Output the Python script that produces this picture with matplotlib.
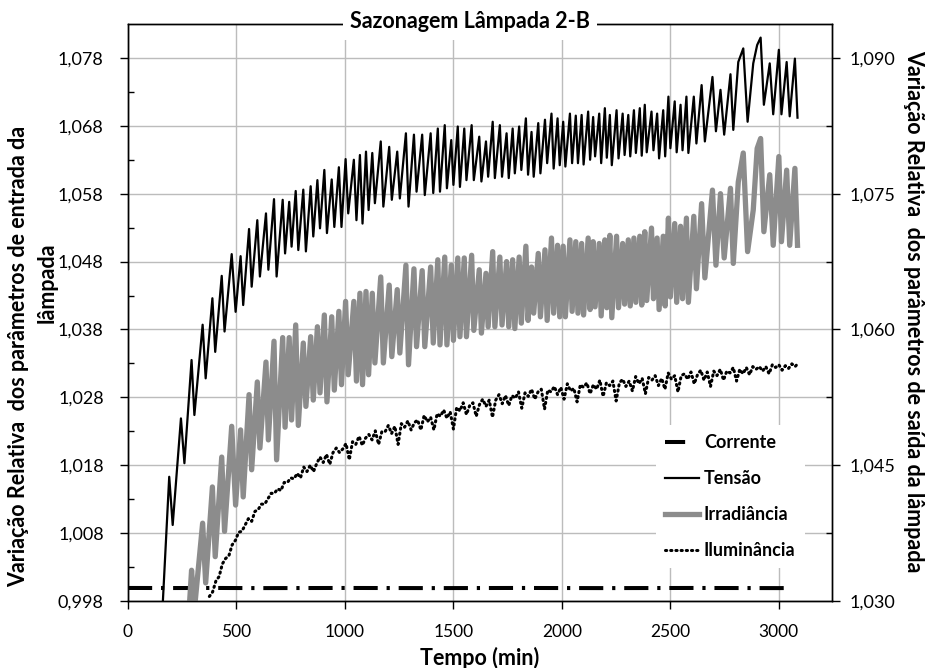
import matplotlib.pyplot as plt
import numpy as np
from matplotlib.lines import Line2D

plt.rcParams['font.family'] = ['Lato', 'DejaVu Sans']

# Tensão (eixo esquerdo): picos e vales
tensao_t = [160, 190, 206, 244, 260, 293, 306, 344, 358, 389, 402, 432, 445, 478, 496,
            519, 531, 558, 570, 596, 608, 636, 647, 673, 685, 713, 724, 743, 754, 773, 785,
            808, 820, 842, 854, 873, 885, 905, 917, 939, 951, 972, 984, 1003, 1015,
            1041, 1053, 1069, 1081, 1097, 1109, 1126, 1138, 1165, 1177, 1204, 1216,
            1241, 1253, 1281, 1293, 1318, 1330, 1356, 1368, 1395, 1407,
            1428, 1438, 1460, 1470, 1490, 1500, 1520, 1530, 1550, 1560, 1584, 1594,
            1619, 1629, 1650, 1660, 1681, 1691, 1714, 1724, 1745, 1755, 1773, 1783,
            1803, 1813, 1834, 1844, 1860, 1870, 1891, 1901, 1922, 1932, 1952, 1962,
            1980, 1990, 2006, 2016, 2037, 2047, 2064, 2074,
            2091, 2100, 2121, 2130, 2144, 2153, 2172, 2181, 2198, 2207, 2221, 2230,
            2252, 2261, 2280, 2289, 2306, 2315, 2332, 2341, 2359, 2368, 2382, 2391,
            2413, 2422, 2439, 2448, 2467, 2476, 2491, 2500, 2520, 2529, 2547, 2556,
            2574, 2583, 2608, 2620, 2644, 2659,
            2694, 2710, 2731, 2748, 2777, 2790, 2813, 2836, 2856, 2882, 2900, 2916, 2931,
            2958, 2974, 3000, 3012, 3036, 3050, 3074, 3086]
tensao_v = [0.9975, 1.0163, 1.0092, 1.0249, 1.0183, 1.0335, 1.0254, 1.0387, 1.0308, 1.0426,
            1.0347, 1.0459, 1.0377, 1.0491, 1.0406, 1.0488, 1.0416, 1.0528, 1.0443, 1.0541,
            1.0458, 1.0551, 1.0468, 1.0572, 1.0458, 1.0571, 1.0492, 1.0568, 1.0502, 1.0584, 1.0497,
            1.0586, 1.0495, 1.0591, 1.0517, 1.0600, 1.0529, 1.0615, 1.0522, 1.0601, 1.0531,
            1.0619, 1.0531, 1.0631, 1.0551, 1.0630, 1.0541, 1.0637, 1.0536, 1.0642, 1.0556,
            1.0640, 1.0566, 1.0657, 1.0561, 1.0649, 1.0571, 1.0642, 1.0573, 1.0669, 1.0561,
            1.0667, 1.0583, 1.0667, 1.0578, 1.0669, 1.0581,
            1.0676, 1.0583, 1.0681, 1.0588, 1.0659, 1.0593, 1.0679, 1.0590, 1.0676, 1.0600,
            1.0681, 1.0600, 1.0664, 1.0598, 1.0657, 1.0605, 1.0686, 1.0603, 1.0681, 1.0605,
            1.0669, 1.0603, 1.0676, 1.0610, 1.0679, 1.0615, 1.0691, 1.0608, 1.0671, 1.0605,
            1.0684, 1.0610, 1.0689, 1.0625, 1.0698, 1.0617, 1.0691, 1.0622, 1.0686, 1.0620,
            1.0698, 1.0625, 1.0695, 1.0625,
            1.0696, 1.0623, 1.0701, 1.0630, 1.0693, 1.0635, 1.0698, 1.0625, 1.0706, 1.0633,
            1.0696, 1.0622, 1.0703, 1.0632, 1.0698, 1.0637, 1.0696, 1.0635, 1.0703, 1.0640,
            1.0706, 1.0636, 1.0711, 1.0641, 1.0701, 1.0644, 1.0698, 1.0632, 1.0703, 1.0635,
            1.0723, 1.0647, 1.0716, 1.0641, 1.0711, 1.0644, 1.0723, 1.0640, 1.0723, 1.0654,
            1.0740, 1.0657,
            1.0752, 1.0672, 1.0733, 1.0667, 1.0756, 1.0674, 1.0774, 1.0794, 1.0686, 1.0772,
            1.0799, 1.0810, 1.0711, 1.0772, 1.0697, 1.0792, 1.0697, 1.0774, 1.0694, 1.0779, 1.0692]

# Irradiância (eixo direito), mesmos instantes a partir de 283 min
irrad_t = [283] + tensao_t[5:]
irrad_v = [1.0295, 1.0334, 1.0290, 1.0386, 1.0320, 1.0426, 1.0349, 1.0459, 1.0377, 1.0493,
           1.0406, 1.0489, 1.0415, 1.0528, 1.0445, 1.0542, 1.0469, 1.0564, 1.0478, 1.0587,
           1.0456, 1.0591, 1.0492, 1.0591, 1.0500, 1.0605, 1.0494,
           1.0585, 1.0515, 1.0592, 1.0522, 1.0603, 1.0530, 1.0616, 1.0520, 1.0614, 1.0533,
           1.0620, 1.0539, 1.0631, 1.0550, 1.0631, 1.0543, 1.0640, 1.0539, 1.0642, 1.0550,
           1.0640, 1.0563, 1.0658, 1.0563, 1.0649, 1.0570, 1.0644, 1.0574, 1.0671, 1.0561,
           1.0667, 1.0581, 1.0665, 1.0581, 1.0669, 1.0585,
           1.0677, 1.0583, 1.0680, 1.0583, 1.0671, 1.0588, 1.0679, 1.0592, 1.0679, 1.0592,
           1.0682, 1.0599, 1.0666, 1.0596, 1.0662, 1.0603, 1.0686, 1.0603, 1.0680, 1.0605,
           1.0675, 1.0603, 1.0677, 1.0601, 1.0680, 1.0607, 1.0692, 1.0610, 1.0669, 1.0618,
           1.0684, 1.0614, 1.0688, 1.0610, 1.0701, 1.0618, 1.0693, 1.0614, 1.0692, 1.0614,
           1.0699, 1.0620, 1.0697, 1.0618,
           1.0695, 1.0616, 1.0701, 1.0622, 1.0697, 1.0625, 1.0695, 1.0615, 1.0699, 1.0624,
           1.0704, 1.0613, 1.0703, 1.0624, 1.0695, 1.0628, 1.0699, 1.0626, 1.0701, 1.0630,
           1.0703, 1.0627, 1.0708, 1.0632, 1.0712, 1.0634, 1.0701, 1.0622, 1.0703, 1.0626,
           1.0723, 1.0636, 1.0717, 1.0630, 1.0714, 1.0634, 1.0723, 1.0630, 1.0725, 1.0645,
           1.0739, 1.0657,
           1.0754, 1.0671, 1.0750, 1.0679, 1.0756, 1.0673, 1.0763, 1.0795, 1.0686, 1.0732,
           1.0800, 1.0811, 1.0708, 1.0771, 1.0693, 1.0791, 1.0697, 1.0776, 1.0693, 1.0778, 1.0693]

# Corrente (eixo esquerdo)
corrente_t = [0, 200, 400, 600, 800, 1000, 1200, 1400, 1600, 1800, 2000, 2200, 2400,
              2600, 2800, 3000, 3046]
corrente_v = [0.99992, 0.99991, 0.99992, 0.99990, 0.99991, 0.99992, 0.99991, 0.99990,
              0.99991, 0.99992, 0.99991, 0.99990, 0.99991, 0.99992, 0.99991, 0.99990, 0.99991]

# Iluminância (eixo direito), amostras a cada 15 min a partir de 375 min
ilum_t0, ilum_dt = 375, 15
ilum_v = [1.0305, 1.0310, 1.0322, 1.0327, 1.0341, 1.0347, 1.0350, 1.0362, 1.0367, 1.0376,
          1.0377, 1.0384, 1.0391, 1.0388, 1.0399, 1.0401, 1.0407, 1.0407, 1.0413, 1.0419,
          1.0419, 1.0424, 1.0422, 1.0431, 1.0431, 1.0436, 1.0435, 1.0441, 1.0436, 1.0448,
          1.0443, 1.0450, 1.0443, 1.0452, 1.0459, 1.0453, 1.0462, 1.0451, 1.0464, 1.0469,
          1.0464, 1.0468, 1.0474, 1.0456, 1.0476, 1.0473, 1.0482, 1.0472, 1.0480, 1.0484,
          1.0478, 1.0488, 1.0473, 1.0487, 1.0487, 1.0494, 1.0485, 1.0493, 1.0473, 1.0496,
          1.0492, 1.0499, 1.0489, 1.0497, 1.0500, 1.0489, 1.0505, 1.0498, 1.0503, 1.0489,
          1.0507, 1.0504, 1.0511, 1.0502, 1.0509, 1.0490, 1.0514, 1.0510, 1.0519, 1.0506,
          1.0516, 1.0519, 1.0504, 1.0517, 1.0523, 1.0515, 1.0522, 1.0503, 1.0522, 1.0528,
          1.0518, 1.0527, 1.0516, 1.0527, 1.0524, 1.0531, 1.0513, 1.0530, 1.0526, 1.0534,
          1.0523, 1.0531, 1.0534, 1.0512, 1.0533, 1.0531, 1.0537, 1.0528, 1.0536, 1.0523,
          1.0540, 1.0532, 1.0535, 1.0520, 1.0539, 1.0536, 1.0541, 1.0529, 1.0539, 1.0534,
          1.0544, 1.0526, 1.0541, 1.0538, 1.0543, 1.0521, 1.0541, 1.0545, 1.0537, 1.0543,
          1.0532, 1.0548, 1.0540, 1.0546, 1.0529, 1.0547, 1.0544, 1.0549, 1.0538, 1.0546,
          1.0534, 1.0552, 1.0545, 1.0549, 1.0531, 1.0549, 1.0551, 1.0545, 1.0553, 1.0540,
          1.0550, 1.0555, 1.0544, 1.0553, 1.0537, 1.0554, 1.0549, 1.0556, 1.0544, 1.0554,
          1.0552, 1.0558, 1.0543, 1.0556, 1.0551, 1.0558, 1.0550, 1.0559, 1.0556, 1.0559,
          1.0554, 1.0559, 1.0551, 1.0561, 1.0558, 1.0561, 1.0555, 1.0560, 1.0557, 1.0562,
          1.0559, 1.0563]
ilum_t = ilum_t0 + ilum_dt * np.arange(len(ilum_v))

left_ticks = [0.998, 1.008, 1.018, 1.028, 1.038, 1.048, 1.058, 1.068, 1.078]
right_ticks = [1.030, 1.045, 1.060, 1.075, 1.090]
x_ticks = [0, 500, 1000, 1500, 2000, 2500, 3000]


def virgula(vals):
    return [f'{v:.3f}'.replace('.', ',') for v in vals]


fig = plt.figure(figsize=(9.27, 6.68), dpi=100)
ax = fig.add_axes([128 / 927, 67 / 668, 704 / 927, 577 / 668])
ax2 = ax.twinx()

cinza = '#8c8c8c'
pontilhado = (0, (0.4, 1.3))
ax.plot(corrente_t, corrente_v, color='black', lw=2.9, linestyle=(0, (6, 2.2, 0.8, 2.2)),
        zorder=3)
ax.plot(tensao_t, tensao_v, color='black', lw=1.6, zorder=4)
ax2.plot(irrad_t, irrad_v, color=cinza, lw=3.8, solid_joinstyle='round', zorder=2)
ax2.plot(ilum_t, ilum_v, color='black', lw=2.2, linestyle=pontilhado,
         dash_capstyle='round', zorder=3)

ax.set_xlim(0, 3245)
ax.set_ylim(0.998, 1.083)
ax2.set_ylim(1.030, 1.09375)

ax.set_xticks(x_ticks)
ax.set_xticklabels([str(x) for x in x_ticks])
ax.set_yticks(left_ticks)
ax.set_yticklabels(virgula(left_ticks))
ax.set_yticks([v + 0.005 for v in left_ticks[:-1]], minor=True)
ax2.set_yticks(right_ticks)
ax2.set_yticklabels(virgula(right_ticks))
ax2.set_yticks([v + 0.0075 for v in right_ticks[:-1]], minor=True)

ax.grid(True, which='major', color='#bcbcbc', lw=1.0)
ax.set_axisbelow(True)

for a in (ax, ax2):
    a.tick_params(which='major', direction='out', length=5.5, width=1, labelsize=13,
                  colors='black')
    a.tick_params(which='minor', direction='in', length=4, width=1)
    for s in a.spines.values():
        s.set_linewidth(1.0)
ax.tick_params(axis='y', pad=12)
ax.tick_params(axis='x', pad=11, labelsize=12.5)
ax2.tick_params(axis='y', pad=7)

ax.set_xlabel('Tempo (min)', fontsize=15.5, fontweight='bold', labelpad=5)

fig.text(19 / 927, 1 - 356 / 668, 'Variação Relativa  dos parâmetros de entrada da',
         rotation=90, ha='center', va='center', fontsize=15.5, fontweight='bold')
fig.text(47 / 927, 1 - 283 / 668, 'lâmpada', rotation=90, ha='center', va='center',
         fontsize=15.5, fontweight='bold')
fig.text(914 / 927, 1 - 311 / 668, 'Variação Relativa  dos parâmetros de saída da lâmpada',
         rotation=270, ha='center', va='center', fontsize=15.5, fontweight='bold')

fig.text(470 / 927, 1 - 22 / 668, 'Sazonagem Lâmpada 2-B', ha='center', va='center',
         fontsize=15.5, fontweight='bold',
         bbox=dict(boxstyle='square,pad=0.35', facecolor='white', edgecolor='none'))

handles = [Line2D([], [], color='black', lw=2.9, linestyle=(0, (5, 10))),
           Line2D([], [], color='black', lw=1.6),
           Line2D([], [], color=cinza, lw=3.8),
           Line2D([], [], color='black', lw=2.2, linestyle=pontilhado,
                  dash_capstyle='round')]
labels = ['Corrente', 'Tensão', 'Irradiância', 'Iluminância']
leg = ax2.legend(handles, labels, loc='upper left',
                 bbox_to_anchor=(656 / 927, 1 - 425 / 668), bbox_transform=fig.transFigure,
                 frameon=True, facecolor='white', edgecolor='none', framealpha=1,
                 fancybox=False, prop={'weight': 'bold', 'size': 13},
                 handlelength=1.9, handletextpad=0.25, labelspacing=1.05,
                 borderpad=0.5, borderaxespad=0)

fig.savefig('out.png', dpi=100)
